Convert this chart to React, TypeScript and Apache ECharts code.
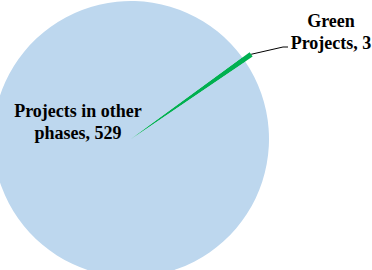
import React, { useEffect, useRef } from "react";
import * as echarts from "echarts";

const categories = ["Green\nProjects", "Projects in other\nphases"];
const values = [3, 529];
const colors = ["#00B050", "#BDD7EE"];

export default function App() {
  const ref = useRef<HTMLDivElement>(null);
  useEffect(() => {
    if (!ref.current) return;
    const chart = echarts.init(ref.current, null, { renderer: "svg" });
    const font = {
      fontFamily: "Liberation Serif",
      fontWeight: "bold" as const,
      fontSize: 18,
      lineHeight: 22,
      color: "#000",
      overflow: "none" as const,
      align: "center" as const,
    };
    const common = {
      type: "pie",
      center: [131, 139],
      startAngle: 36.2,
      clockwise: true,
      silent: true,
      emphasis: { disabled: true },
    };
    chart.setOption({
      animation: false,
      backgroundColor: "#fff",
      series: [
        {
          ...common,
          radius: [0, 138],
          data: categories.map((c, i) => ({
            name: c,
            value: values[i],
            itemStyle: { color: colors[i], borderWidth: 0 },
            label: {
              show: i === 1,
              position: "inside",
              formatter: "{b}, {c}",
              ...font,
            },
            labelLine: { show: false },
          })),
          labelLayout: () => ({
            x: 78,
            y: 122,
            align: "center",
            verticalAlign: "middle",
          }),
        },
        {
          ...common,
          radius: [0, 147],
          data: categories.map((c, i) => ({
            name: c,
            value: values[i],
            itemStyle: {
              color: i === 0 ? colors[0] : "rgba(0,0,0,0)",
              borderWidth: 0,
            },
            label: {
              show: i === 0,
              position: "outside",
              formatter: "{b}, {c}",
              ...font,
            },
            labelLine: {
              show: i === 0,
              lineStyle: { color: "#000", width: 1 },
            },
          })),
          labelLayout: (params: any) => {
            const p0 =
              params.labelLinePoints && params.labelLinePoints[0]
                ? params.labelLinePoints[0]
                : [251, 54];
            return {
              x: 331,
              y: 32,
              align: "center",
              verticalAlign: "middle",
              labelLinePoints: [p0, [283, 47], [288, 47]],
            };
          },
        },
      ],
    });
    return () => chart.dispose();
  }, []);
  return (
    <div
      ref={ref}
      style={{ position: "absolute", left: 0, top: 0, width: 372, height: 270 }}
    />
  );
}
